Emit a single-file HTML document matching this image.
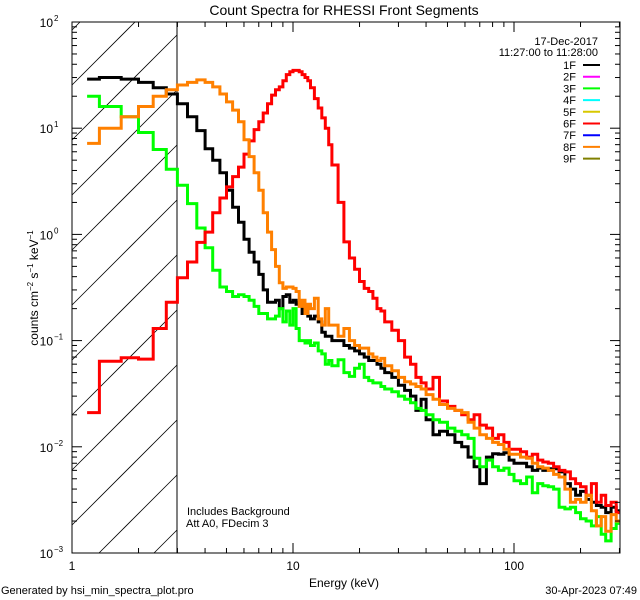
<!DOCTYPE html>
<html><head><meta charset="utf-8"><style>
html,body{margin:0;padding:0;background:#fff;width:640px;height:600px;overflow:hidden;line-height:0}
svg{display:block;font-family:"Liberation Sans",sans-serif}
</style></head><body>
<svg id="chart" width="640" height="600" viewBox="0 0 640 600" xmlns="http://www.w3.org/2000/svg">
<defs><clipPath id="plotClip"><rect x="72" y="22" width="548" height="531"/></clipPath></defs>
<rect width="640" height="600" fill="#fff"/>
<text x="344" y="15" font-size="14" text-anchor="middle">Count Spectra for RHESSI Front Segments</text>
<g id="hatch"></g>
<line x1="177" y1="22" x2="177" y2="553" stroke="#000" stroke-width="1"/>
<g id="series" clip-path="url(#plotClip)"></g>
<g id="axes"></g>
<text transform="translate(38,288) rotate(-90)" font-size="12" text-anchor="middle">counts cm<tspan font-size="8" dy="-5">−2</tspan><tspan dy="5"> s</tspan><tspan font-size="8" dy="-5">−1</tspan><tspan dy="5"> keV</tspan><tspan font-size="8" dy="-5">−1</tspan></text>
<text x="344" y="587" font-size="12" text-anchor="middle">Energy (keV)</text>
<text x="1" y="594" font-size="11">Generated by hsi_min_spectra_plot.pro</text>
<text x="637" y="594" font-size="11" text-anchor="end">30-Apr-2023 07:49</text>
<text x="187" y="515" font-size="11">Includes Background</text>
<text x="186" y="527" font-size="11">Att A0, FDecim 3</text>
<g id="legend"></g>
</svg>
<script>
const energyEdges = [1.17,1.33,1.67,2,2.33,2.67,3,3.33,3.67,4,4.33,4.67,5,5.33,5.67,6,6.33,6.67,7,7.33,7.67,8,8.33,8.67,9,9.33,9.67,10,10.33,10.67,11,11.33,11.67,12,12.5,13,13.5,14,14.5,15,16,17,18,19,20,21,22,23,24,25,26,28,30,32,34,36,38,40,43,46,50,54,58,62,66,70,75,80,85,90,95,100,107,114,121,128,135,143,151,160,170,180,190,200,212,224,236,248,260,275,290,300];
const seg1F = [29,30,29,27,24,21,17,12.8,9.5,6.4,5.0,3.8,2.6,1.8,1.3,0.9,0.68,0.55,0.42,0.3,0.23,0.23,0.24,0.2,0.26,0.27,0.23,0.24,0.22,0.23,0.18,0.19,0.17,0.16,0.17,0.15,0.12,0.11,0.11,0.1,0.1,0.09,0.085,0.08,0.075,0.07,0.065,0.065,0.06,0.055,0.05,0.045,0.038,0.034,0.03,0.022,0.028,0.018,0.013,0.014,0.013,0.011,0.01,0.008,0.0065,0.0045,0.008,0.0086,0.0085,0.0088,0.0075,0.007,0.007,0.0065,0.006,0.0063,0.006,0.0062,0.0062,0.0058,0.0045,0.004,0.0035,0.0038,0.0032,0.003,0.0028,0.0027,0.0024,0.0027,0.0025];
const seg3F = [20,16,12.8,9.1,6.3,4.1,2.9,1.95,1.15,0.75,0.46,0.32,0.29,0.26,0.27,0.26,0.24,0.21,0.18,0.18,0.16,0.16,0.17,0.2,0.15,0.19,0.14,0.2,0.13,0.1,0.1,0.095,0.1,0.09,0.095,0.08,0.075,0.06,0.065,0.058,0.066,0.05,0.046,0.055,0.06,0.045,0.042,0.04,0.04,0.037,0.035,0.033,0.03,0.028,0.026,0.023,0.022,0.02,0.018,0.017,0.015,0.014,0.013,0.012,0.0078,0.0065,0.0075,0.0065,0.006,0.0063,0.0055,0.0048,0.0045,0.0052,0.0037,0.0045,0.0043,0.0042,0.004,0.0027,0.0026,0.0027,0.0024,0.0021,0.002,0.0018,0.0022,0.0015,0.0013,0.0017,0.0019];
const seg6F = [0.021,0.064,0.069,0.067,0.13,0.23,0.39,0.55,0.84,1.05,1.6,2.2,2.8,3.5,4.3,5.7,7.6,9.7,11.5,13.9,17,20.5,23,24.5,28,32,34,35,35,34,32,30,28,24,19,15.5,12.5,10,7,4.5,2.0,0.85,0.6,0.47,0.36,0.31,0.29,0.25,0.2,0.19,0.15,0.125,0.1,0.07,0.06,0.045,0.04,0.035,0.045,0.027,0.024,0.022,0.02,0.018,0.02,0.016,0.015,0.012,0.013,0.011,0.0095,0.0095,0.009,0.008,0.0085,0.0075,0.0072,0.007,0.0065,0.006,0.0058,0.005,0.0045,0.0042,0.0035,0.0045,0.003,0.0035,0.0028,0.003,0.0024];
const seg8F = [7.2,10,12.8,16,20,23,25.5,27,28.5,27,24.5,21,17.7,14.8,11.5,7.8,5.4,3.8,2.6,1.6,1.05,0.72,0.5,0.35,0.31,0.32,0.32,0.31,0.29,0.21,0.24,0.18,0.22,0.2,0.25,0.16,0.14,0.2,0.14,0.14,0.11,0.13,0.1,0.09,0.085,0.085,0.075,0.07,0.065,0.068,0.058,0.052,0.045,0.041,0.039,0.037,0.035,0.031,0.028,0.025,0.023,0.022,0.021,0.017,0.015,0.013,0.012,0.011,0.0105,0.0095,0.0085,0.0085,0.008,0.0078,0.007,0.0065,0.0063,0.006,0.0055,0.0052,0.004,0.003,0.0032,0.003,0.0035,0.0025,0.0018,0.0022,0.0016,0.0023,0.002];
const legendLabels = ["1F","2F","3F","4F","5F","6F","7F","8F","9F"];
const legendColors = ["#000000","#ff00ff","#00ff00","#00ffff","#d8c800","#ff0000","#0000ff","#ff8000","#808000"];
const xTickValues = [1,10,100];
const xTickLabels = ["1","10","100"];
const yTickExponents = [2,1,0,-1,-2,-3];

const X0=72, X1=620, Y0=22, Y1=553, XDEC=221, YDEC=106.2;
const xs = e => X0 + XDEC*Math.log10(e);
const ys = v => Y0 + (2 - Math.log10(v))*YDEC;
const NS="http://www.w3.org/2000/svg";
function mk(tag, attrs, parent){const el=document.createElementNS(NS,tag);for(const k in attrs)el.setAttribute(k,attrs[k]);parent.appendChild(el);return el;}

// hatch lines clipped analytically to [72,177]x[22,553]
const hatch=document.getElementById('hatch');
const HX1=177;
for(let k=-2;k<12;k++){
  const c=85+55*k; // y at x=72; y = c - (x-72)
  const xa=Math.max(X0, X0 + c - Y1);
  const xb=Math.min(HX1, X0 + c - Y0);
  if(xb<=xa) continue;
  const ln=mk('line',{x1:xa,y1:c-(xa-X0),x2:xb,y2:c-(xb-X0),stroke:'#000','stroke-width':0.8},hatch);
  
  
}

const seriesG=document.getElementById('series');
const seriesList=[[seg1F,"#000000","series-1f"],[seg3F,"#00ff00","series-3f"],[seg6F,"#ff0000","series-6f"],[seg8F,"#ff8000","series-8f"]];
seriesList.forEach(([vals,col,name])=>{
  let d='M'+xs(energyEdges[0]).toFixed(1)+' '+ys(vals[0]).toFixed(1);
  for(let i=0;i<vals.length;i++){
    if(i>0) d+=' V'+ys(vals[i]).toFixed(1);
    d+=' H'+xs(energyEdges[i+1]).toFixed(1);
  }
  const p=mk('path',{d:d,fill:'none',stroke:col,'stroke-width':3,'stroke-linejoin':'miter'},seriesG);
  
  
});

const ax=document.getElementById('axes');
const frame=mk('rect',{x:X0,y:Y0,width:X1-X0,height:Y1-Y0,fill:'none',stroke:'#000','stroke-width':1},ax);


for(let dec=1;dec<=100;dec*=10){
  for(let m=1;m<10;m++){
    const e=dec*m; if(e>302) break;
    const x=xs(e); const L=(m===1)?10:5;
    mk('line',{x1:x,y1:Y1,x2:x,y2:Y1-L,stroke:'#000'},ax);
    mk('line',{x1:x,y1:Y0,x2:x,y2:Y0+L,stroke:'#000'},ax);
  }
}
xTickValues.forEach((v,i)=>{
  const t=mk('text',{x:xs(v),y:570,'font-size':12,'text-anchor':'middle'},ax);
  t.textContent=xTickLabels[i];
  
  
});
for(let p=-3;p<2;p++){
  for(let m=1;m<10;m++){
    const y=ys(m*Math.pow(10,p)); const L=(m===1)?10:5;
    mk('line',{x1:X0,y1:y,x2:X0+L,y2:y,stroke:'#000'},ax);
    mk('line',{x1:X1,y1:y,x2:X1-L,y2:y,stroke:'#000'},ax);
  }
}
mk('line',{x1:X0,y1:Y0,x2:X0+10,y2:Y0,stroke:'#000'},ax);
yTickExponents.forEach(p=>{
  const y=ys(Math.pow(10,p));
  const t=mk('text',{x:53,y:y+5,'font-size':12,'text-anchor':'end'},ax);
  t.textContent='10';
  
  
  const s=mk('text',{x:54,y:y-1,'font-size':8},ax);
  s.textContent=String(p).replace('-','−');
  
  
});

const lg=document.getElementById('legend');
const d1=mk('text',{x:598,y:45,'font-size':11,'text-anchor':'end'},lg);
d1.textContent='17-Dec-2017';


const d2=mk('text',{x:598,y:56,'font-size':11,'text-anchor':'end'},lg);
d2.textContent='11:27:00 to 11:28:00';


legendLabels.forEach((lab,i)=>{
  const y=65+i*11.7;
  const t=mk('text',{x:576,y:y+4,'font-size':11,'text-anchor':'end'},lg);
  t.textContent=lab;
  
  
  const l=mk('line',{x1:583,y1:y,x2:600,y2:y,stroke:legendColors[i],'stroke-width':2},lg);
  
  
});
</script>
</body></html>
